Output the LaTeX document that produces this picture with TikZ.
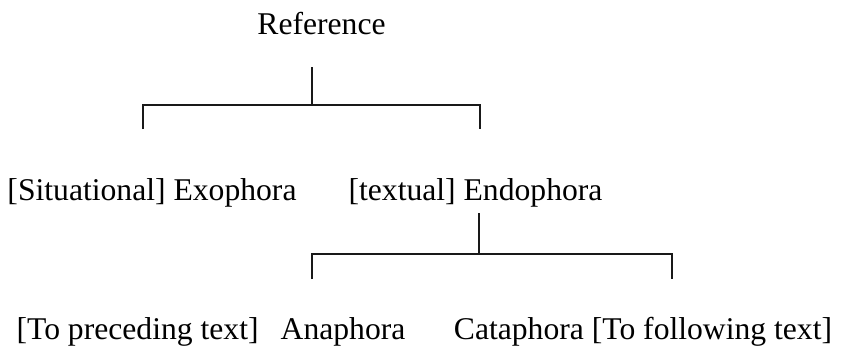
\documentclass[tikz,border=0pt]{standalone}
\usepackage{fontspec}
\setmainfont{Liberation Serif}
\begin{document}
\begin{tikzpicture}[every node/.style={inner sep=0pt,anchor=base,font=\fontsize{18}{22}\selectfont},
  branch/.style={line width=1.1pt,color=black!90}]
\useasboundingbox (0,0) rectangle (16.86,-7.04);
\node (ref) at (6.43,-.68) {Reference};
\coordinate (reftop) at (6.24,-1.34);
\coordinate (refjoin) at (6.24,-2.10);
\coordinate (exoup) at (2.86,-2.10);
\coordinate (exodown) at (2.86,-2.58);
\coordinate (endoup) at (9.60,-2.10);
\coordinate (endodown) at (9.60,-2.58);
\draw[branch] (reftop) -- (refjoin);
\draw[branch] (exodown) -- (exoup) -- (endoup) -- (endodown);
\node (exo) at (3.04,-4.) {[Situational] Exophora};
\node (endo) at (9.51,-4.) {[textual] Endophora};
\coordinate (endotop) at (9.58,-4.26);
\coordinate (endojoin) at (9.58,-5.08);
\coordinate (anaup) at (6.24,-5.08);
\coordinate (anadown) at (6.24,-5.58);
\coordinate (cataup) at (13.44,-5.08);
\coordinate (catadown) at (13.44,-5.58);
\draw[branch] (endotop) -- (endojoin);
\draw[branch] (anadown) -- (anaup) -- (cataup) -- (catadown);
\node (ana) at (4.22,-6.78) {[To preceding text]\hspace{.7em}Anaphora};
\node (cata) at (12.86,-6.78) {Cataphora [To following text]};
\end{tikzpicture}
\end{document}
